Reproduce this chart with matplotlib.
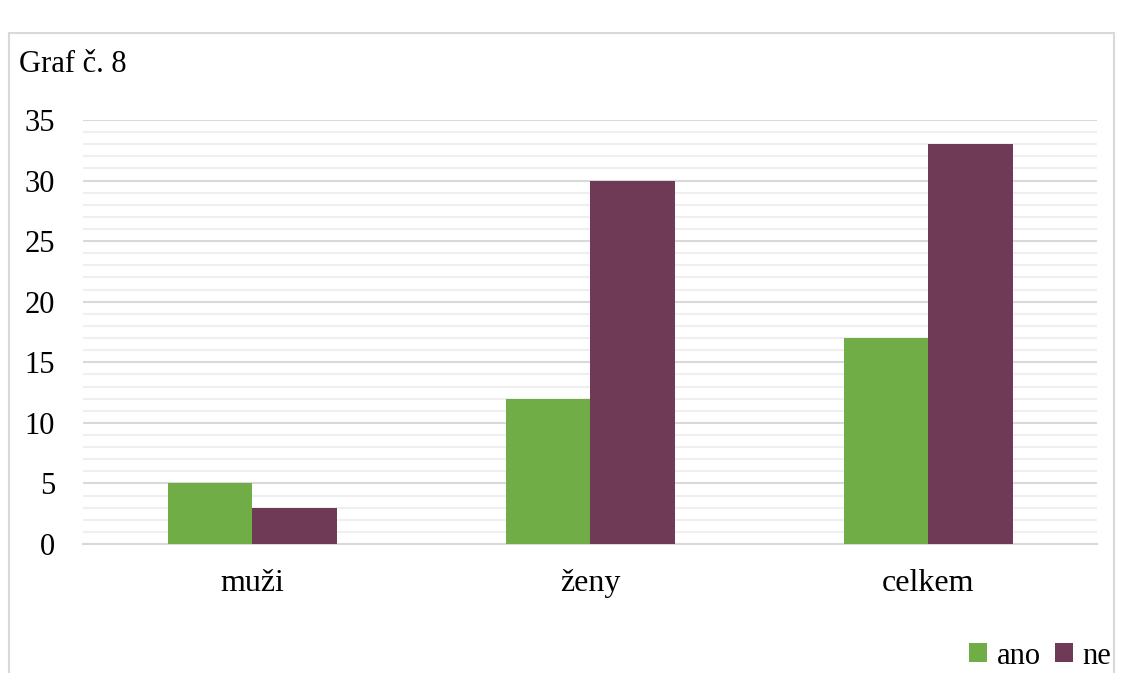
import numpy as np
import matplotlib.pyplot as plt
from matplotlib.patches import Rectangle
from matplotlib.ticker import MultipleLocator

categories = ['muži', 'ženy', 'celkem']
ano = [5, 12, 17]
ne = [3, 30, 33]
series_names = ['ano', 'ne']
colors = ['#70AD47', '#6F3A55']

plt.rcParams['font.family'] = ['Liberation Serif', 'DejaVu Serif']

W, H = 1124, 673
fig = plt.figure(figsize=(W / 100, H / 100), dpi=100)

# chart frame
fig.patches.append(Rectangle((9 / W, -0.05), (1114 - 9) / W, 1 - 33 / H + 0.05,
                             transform=fig.transFigure, fill=False,
                             edgecolor='#d9d9d9', linewidth=1.5))

ax = fig.add_axes([83 / W, 1 - 544 / H, (1097 - 83) / W, (544 - 120) / H])

x = np.arange(len(categories))
w = 0.25
ax.bar(x - w / 2, ano, w, color=colors[0], label=series_names[0], zorder=3)
ax.bar(x + w / 2, ne, w, color=colors[1], label=series_names[1], zorder=3)

ax.set_xlim(-0.5, len(categories) - 0.5)
ax.set_ylim(0, 35)
ax.yaxis.set_major_locator(MultipleLocator(5))
ax.yaxis.set_minor_locator(MultipleLocator(1))
ax.grid(axis='y', which='major', color='#d9d9d9', linewidth=1.5, zorder=0)
ax.grid(axis='y', which='minor', color='#efefef', linewidth=1.5, zorder=0)
ax.set_xticks(x)
ax.set_xticklabels(categories, fontsize=23)
ax.tick_params(axis='y', labelsize=22, length=0, pad=20)
ax.tick_params(axis='x', length=0, pad=18)
ax.tick_params(which='minor', length=0)
for s in ['top', 'right', 'left']:
    ax.spines[s].set_visible(False)
ax.spines['bottom'].set_color('#d9d9d9')
ax.spines['bottom'].set_linewidth(1.5)

fig.text(19 / W, 1 - 64 / H, 'Graf č. 8', fontsize=22, va='center', ha='left')

fig.legend(loc='center right', bbox_to_anchor=(1123 / W, 1 - 656 / H), ncol=2,
           frameon=False, fontsize=22, handlelength=0.6, handleheight=0.6,
           handletextpad=0.3, columnspacing=0.45, borderaxespad=0)

fig.savefig('out.png', dpi=100)
